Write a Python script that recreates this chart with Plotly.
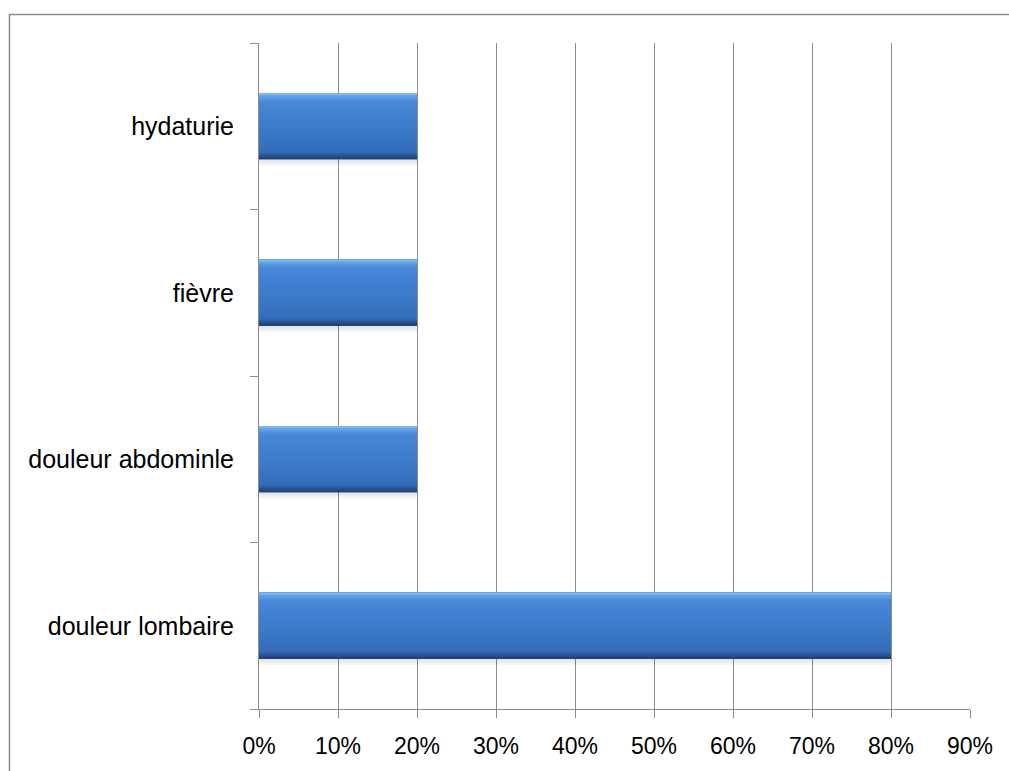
import plotly.graph_objects as go

# Symptom frequencies (share of patients)
categories = ["douleur lombaire", "douleur abdominle", "fièvre", "hydaturie"]
values = [0.80, 0.20, 0.20, 0.20]
tick_vals = [0.0, 0.1, 0.2, 0.3, 0.4, 0.5, 0.6, 0.7, 0.8, 0.9]
tick_text = ["0%", "10%", "20%", "30%", "40%", "50%", "60%", "70%", "80%", "90%"]

BAR_W = 0.4
GRID = "#8c8c8c"
FONT = "Liberation Sans, Arial, sans-serif"

# Vertical colour ramp used to give the bars a glossy bevelled look
stops = [
    (0.00, (140, 195, 245)),
    (0.05, (95, 160, 232)),
    (0.14, (70, 135, 215)),
    (0.55, (60, 122, 202)),
    (0.88, (52, 108, 185)),
    (0.95, (38, 80, 140)),
    (1.00, (30, 62, 110)),
]


def ramp(t):
    for (t0, c0), (t1, c1) in zip(stops, stops[1:]):
        if t0 <= t <= t1:
            f = (t - t0) / (t1 - t0) if t1 > t0 else 0
            return "rgb(%d,%d,%d)" % tuple(round(a + (b - a) * f) for a, b in zip(c0, c1))
    return "rgb(%d,%d,%d)" % stops[-1][1]


fig = go.Figure()

# soft drop shadow under each bar
for k, alpha in enumerate([0.10, 0.07, 0.04]):
    fig.add_trace(go.Bar(
        y=categories, x=values, orientation="h",
        width=0.012, offset=-BAR_W / 2 - 0.012 * (k + 1),
        marker=dict(color="rgba(0,0,0,%.2f)" % alpha, line=dict(width=0)),
        hoverinfo="skip", showlegend=False,
    ))

# gradient: stacked-from-top layers, each one shorter and drawn on top,
# so there are no seams between the colour steps
N = 30
for i in range(N, 0, -1):
    depth = BAR_W * i / N          # distance from the top of the bar
    t = (i - 0.5) / N
    fig.add_trace(go.Bar(
        y=categories, x=values, orientation="h",
        width=depth, offset=BAR_W / 2 - depth,
        marker=dict(color=ramp(t), line=dict(width=0)),
        hoverinfo="skip", showlegend=False,
    ))

# outer border rectangle of the chart
fig.add_shape(type="rect", xref="paper", yref="paper",
              x0=-0.3509, x1=1.2, y0=-0.3, y1=1.0428,
              line=dict(color="#8a8a8a", width=1.5), fillcolor="rgba(0,0,0,0)",
              layer="below")

fig.update_layout(
    width=1009, height=771,
    margin=dict(l=259, r=39, t=43, b=62),
    paper_bgcolor="white", plot_bgcolor="white",
    barmode="overlay",
    bargap=0.6,
    showlegend=False,
    font=dict(family=FONT, color="black"),
    xaxis=dict(
        range=[0, 0.9], tickvals=tick_vals, ticktext=tick_text,
        showgrid=True, gridcolor=GRID, gridwidth=1,
        showline=True, linecolor=GRID, linewidth=1,
        ticks="outside", ticklen=8, tickcolor=GRID,
        tickfont=dict(size=23, family=FONT, color="black"),
        ticklabelstandoff=8,
        zeroline=False, fixedrange=True,
    ),
    yaxis=dict(
        type="category", categoryorder="array", categoryarray=categories,
        range=[-0.5, 3.5],
        showgrid=False, showline=True, linecolor=GRID, linewidth=1,
        ticks="outside", ticklen=8, tickcolor=GRID, tickson="boundaries",
        tickfont=dict(size=25, family=FONT, color="black"),
        ticklabelstandoff=19,
        zeroline=False, fixedrange=True,
    ),
)

fig.write_html("out.html")
